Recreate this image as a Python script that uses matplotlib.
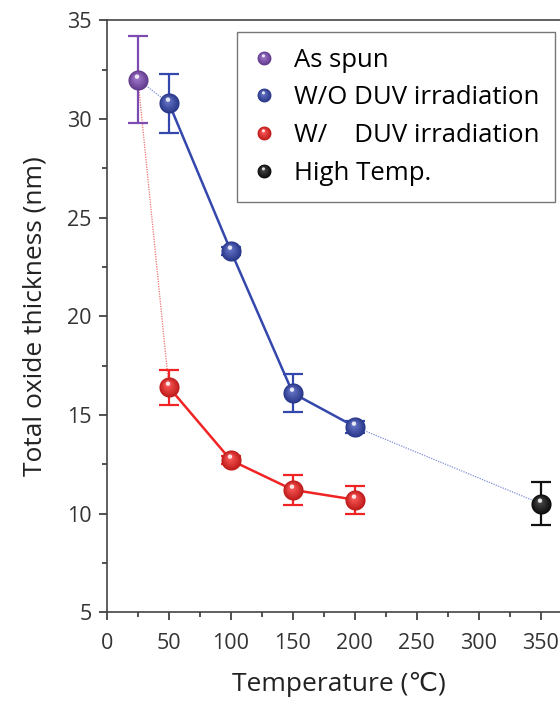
import numpy as np
import matplotlib
matplotlib.use("Agg")
import matplotlib.pyplot as plt
from matplotlib.path import Path
from matplotlib.lines import Line2D
from matplotlib.legend_handler import HandlerTuple
from matplotlib.ticker import MultipleLocator
from matplotlib.colors import to_rgb

plt.rcParams['font.family'] = ['Open Sans', 'DejaVu Sans']

# data
spun_x = [25]
spun_y = [32.0]
spun_err = [2.2]

wo_x = [50, 100, 150, 200]
wo_y = [30.8, 23.3, 16.1, 14.4]
wo_err = [1.5, 0.2, 0.95, 0.3]

w_x = [50, 100, 150, 200]
w_y = [16.4, 12.7, 11.2, 10.7]
w_err = [0.9, 0.2, 0.75, 0.7]

ht_x = [350]
ht_y = [10.5]
ht_err = [1.1]

labels = ["As spun", "W/O DUV irradiation", "W/    DUV irradiation", "High Temp."]
c_spun = "#7d4cb3"
c_wo = "#3447ad"
c_w = "#f02424"
c_ht = "#111111"

t = np.linspace(0, 2 * np.pi, 48)


def offset_circle(cx, cy, r):
    v = np.column_stack([cx + r * np.cos(t), cy + r * np.sin(t)])
    return Path(v, closed=True), np.max(np.abs(v))


def mix(a, b, f):
    a, b = np.array(to_rgb(a)), np.array(to_rgb(b))
    return tuple(a + (b - a) * f)


def sphere_layers(color, ms, n=6):
    # concentric shaded circles, shifted up-left, for a glossy ball look
    out = []
    for k in range(n + 1):
        f = k / n
        path, sc = offset_circle(-0.15 * f, 0.25 * f, 1 - 0.7 * f)
        col = mix(mix(color, 'black', 0.2), mix(color, 'white', 0.2), f)
        out.append(dict(marker=path, ms=ms * sc, color=col, mec='none'))
    path, sc = offset_circle(-0.15, 0.38, 0.22)
    out.append(dict(marker=path, ms=ms * sc, color='white', mec='none', alpha=0.85))
    return out


MS = 14.5

fig = plt.figure(figsize=(5.6, 7.02), dpi=100)
ax = fig.add_axes([0.191, 0.128, 0.83, 0.843])

# dotted connectors between series
ax.plot([spun_x[0], wo_x[0]], [spun_y[0], wo_y[0]], ls=(0, (1, 1)), lw=0.9, color="#8090d8", zorder=1)
ax.plot([spun_x[0], w_x[0]], [spun_y[0], w_y[0]], ls=(0, (1, 1)), lw=0.9, color="#f07070", zorder=1)
ax.plot([wo_x[-1], ht_x[0]], [wo_y[-1], ht_y[0]], ls=(0, (1, 1)), lw=0.9, color="#8090d8", zorder=1)

handles = []
for x, y, e, c, solid in [(spun_x, spun_y, spun_err, c_spun, False),
                          (wo_x, wo_y, wo_err, c_wo, True),
                          (w_x, w_y, w_err, c_w, True),
                          (ht_x, ht_y, ht_err, c_ht, False)]:
    ax.errorbar(x, y, yerr=e, fmt='none', ecolor=c, elinewidth=1.6,
                capsize=7, capthick=1.6, zorder=2)
    if solid:
        ax.plot(x, y, '-', color=c, lw=1.8, zorder=2)
    for i, kw in enumerate(sphere_layers(c, MS)):
        ax.plot(x, y, ls='none', zorder=3 + i * 0.01, **kw)
    handles.append(tuple(Line2D([], [], ls='none', **kw) for kw in sphere_layers(c, 10)))

ax.set_xlim(0, 375)
ax.set_ylim(5, 35)
ax.xaxis.set_major_locator(MultipleLocator(50))
ax.xaxis.set_minor_locator(MultipleLocator(25))
ax.yaxis.set_major_locator(MultipleLocator(5))
ax.yaxis.set_minor_locator(MultipleLocator(2.5))
ax.tick_params(which='major', direction='out', length=6, width=1.2, labelsize=15.5,
               colors='#333333')
ax.tick_params(axis='x', which='major', pad=9)
ax.tick_params(axis='y', which='major', pad=5)
ax.tick_params(which='minor', direction='out', length=3.5, width=1.2, colors='#333333')
for s in ax.spines.values():
    s.set_linewidth(1.2)
    s.set_color('#444444')

ax.set_xlabel("Temperature (℃)", fontsize=19, color='#222222', labelpad=13)
ax.set_ylabel("Total oxide thickness (nm)", fontsize=19, color='#222222', labelpad=14)

leg = ax.legend(handles, labels, handler_map={tuple: HandlerTuple(ndivide=1)},
                loc='upper right', bbox_to_anchor=(0.963, 0.98), borderaxespad=0,
                fontsize=18.5, frameon=True, fancybox=False, edgecolor='#555555',
                handlelength=0.9, handletextpad=0.7, labelspacing=0.5,
                borderpad=0.6)
leg.get_frame().set_linewidth(1.0)

fig.savefig("out.png", dpi=100)
